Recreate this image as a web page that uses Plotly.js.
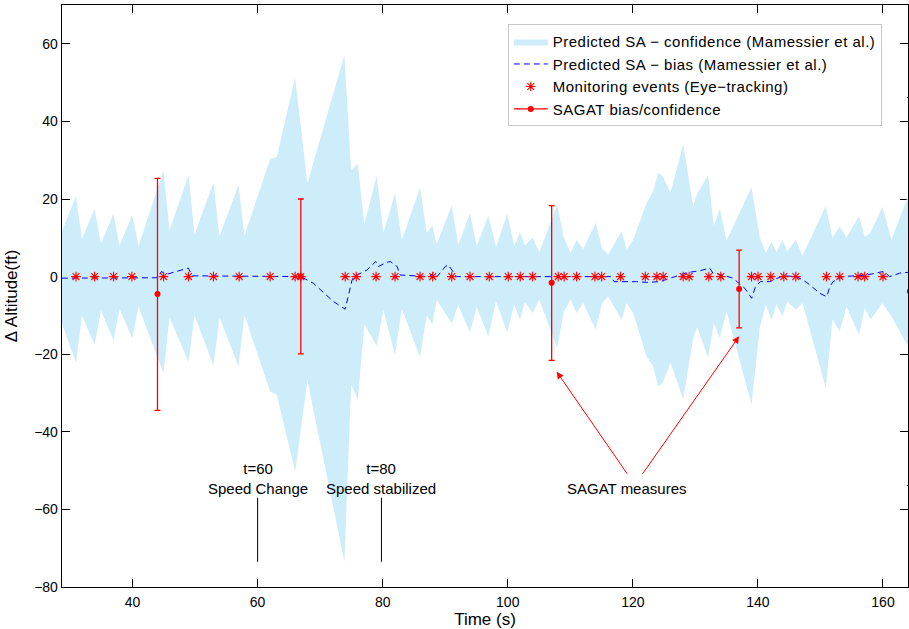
<!DOCTYPE html>
<html>
<head>
<meta charset="utf-8">
<script src="https://cdn.plot.ly/plotly-3.0.1.min.js"></script>
<style>html,body{margin:0;padding:0;background:#fff;}#chart{width:909px;height:629px;}.legendtext{letter-spacing:0.5px;}</style>
</head>
<body>
<div id="chart"></div>
<script>
// ---- Predicted SA confidence envelope (Mamessier et al.) ----
const envTime = [28.7, 30.96, 31.91, 33.93, 34.95, 36.96, 37.92, 39.95, 40.96, 44.95, 45.91, 48.95, 49.91, 52.94, 53.90, 56.94, 57.90, 62.00, 63.07, 66.0, 67.96, 73.88, 74.95, 76.02, 77.07, 79.05, 80.11, 81.98, 83.05, 85.97, 87.04, 87.94, 88.64, 91.04, 92.09, 93.96, 95.03, 96.89, 98.12, 99.92, 101.04, 101.95, 102.75, 103.98, 105.04, 107.91, 108.98, 110.06, 111.01, 112.07, 114.05, 115.10, 116.06, 118.20, 119.00, 120.06, 122.20, 123.25, 124.05, 124.76, 126.03, 128.05, 129.65, 130.28, 132.04, 132.95, 133.91, 134.98, 138.98, 140.30, 141.26, 142.17, 142.97, 143.93, 144.7, 146.06, 147.13, 150.85, 151.92, 153.09, 154.16, 156.17, 157.08, 157.99, 159.91, 161.35, 164.0];
const envUpper = [11.7, 20.7, 9.7, 17.4, 8.5, 16.2, 8.0, 15.9, 7.9, 27.4, 11.9, 26.2, 10.9, 24.2, 10.4, 23.6, 10.5, 30.3, 30.8, 51.3, 24.0, 57.1, 27.4, 29.1, 13.5, 26.0, 11.3, 21.5, 9.4, 22.9, 11.3, 13.2, 8.4, 18.3, 8.2, 16.3, 7.9, 15.6, 7.6, 16.2, 7.8, 11.4, 8.0, 10.1, 6.2, 18.5, 10.0, 6.1, 9.5, 7.1, 13.9, 7.1, 5.7, 11.7, 7.0, 9.5, 19.0, 22.0, 26.8, 25.9, 21.6, 34.1, 18.2, 21.3, 26.2, 13.2, 17.4, 9.3, 23.0, 10.2, 6.1, 9.0, 6.3, 9.5, 6.5, 9.5, 5.4, 18.2, 10.0, 13.0, 10.0, 15.6, 10.2, 11.3, 18.0, 9.5, 20.7];
const envLower = [-12.0, -22.3, -10.0, -17.6, -8.7, -16.5, -8.3, -15.9, -7.8, -25.0, -10.5, -22.0, -10.0, -22.9, -10.5, -23.2, -10.0, -29.6, -30.5, -50.2, -26.8, -73.5, -27.8, -31.8, -12.3, -17.9, -8.7, -20.3, -8.3, -20.7, -10.0, -12.3, -6.0, -12.0, -7.4, -14.5, -7.8, -15.4, -6.4, -14.5, -7.2, -11.1, -6.6, -9.4, -5.9, -18.4, -9.0, -5.9, -9.4, -6.8, -13.7, -6.8, -5.1, -11.1, -6.8, -9.4, -20.6, -23.1, -28.3, -27.4, -22.3, -31.7, -15.8, -13.0, -21.0, -11.9, -15.8, -8.9, -33.0, -13.2, -7.2, -11.1, -7.2, -10.2, -6.4, -8.5, -6.8, -28.7, -11.1, -14.1, -7.7, -15.0, -8.1, -11.1, -6.8, -10.2, -18.0];

// ---- Predicted SA bias (Mamessier et al.) ----
const biasTime = [28.7, 44.0, 44.6, 45.5, 48.9, 49.6, 66.9, 68.9, 72.1, 74.0, 75.1, 75.4, 77.5, 78.9, 79.3, 80.4, 81.2, 82.3, 82.8, 87.5, 88.1, 88.7, 90.0, 90.5, 91.8, 116.5, 117.0, 120.6, 122.2, 124.3, 126.0, 128.6, 130.7, 132.3, 132.8, 134.4, 136.0, 137.9, 139.0, 139.6, 140.4, 141.9, 144.0, 146.2, 147.8, 149.9, 151.0, 151.5, 152.0, 153.6, 157.4, 158.4, 160.0, 161.1, 162.7, 164.0];
const biasValue = [-0.4, -0.3, 1.3, 0.6, 2.2, 0.2, 0.0, -1.7, -6.4, -8.4, -0.9, 0.0, 1.7, 3.9, 2.6, 3.5, 3.9, 2.6, 0.4, 0.0, 1.0, 0.0, 2.6, 3.0, 0.0, 0.0, -1.3, -1.3, -1.5, -1.3, -0.4, 1.0, 1.5, 2.2, 0.9, 0.4, -0.4, -3.0, -5.6, -2.6, -1.3, -1.3, 0.2, 0.0, -1.5, -4.3, -5.2, -2.6, -1.3, 0.0, 0.4, 0.7, 1.3, 0.0, 0.9, 1.1];

// ---- Monitoring events (Eye-tracking) ----
const eventTime = [30.96, 33.93, 36.96, 39.90, 44.95, 48.95, 52.94, 57.05, 62.0, 66.0, 66.91, 74.0, 75.77, 78.94, 81.98, 85.97, 88.0, 91.04, 93.96, 97.05, 100.08, 102.0, 103.98, 108.07, 109.01, 111.01, 113.94, 115.01, 118.04, 122.0, 123.84, 124.85, 128.05, 129.0, 132.15, 134.07, 138.98, 140.03, 142.06, 144.14, 146.06, 150.96, 153.09, 156.01, 157.08, 160.0];
const eventLevel = [0,0,0,0,0,0,0,0,0,0,0,0,0,0,0,0,0,0,0,0,0,0,0,0,0,0,0,0,0,0,0,0,0,0,0,0,0,0,0,0,0,0,0,0,0,0];

// ---- SAGAT bias / confidence ----
const sagatTime = [43.99, 66.91, 107.02, 137.0, 164.3];
const sagatBias = [-4.5, 0.0, -1.6, -3.2, -3.8];
const sagatErrPlus = [29.8, 20.0, 19.9, 10.0, 50.0];
const sagatErrMinus = [30.0, 19.9, 20.0, 10.0, 50.0];

// ---- annotations ----
const markTime = [60, 79.8];
const markLabel = ['t=60<br>Speed Change', 't=80<br>Speed stabilized'];
const markLabelY = -52;
const markLineTop = -57;
const markLineBottom = -73.5;
const sagatLabel = 'SAGAT measures';
const sagatLabelPos = [119.03, -54.5];
const arrowTails = [[119.26, -51.2], [121.4, -51.2]];
const arrowHeads = [[107.82, -24.5], [136.99, -15.4]];

const FONT = 'Liberation Sans, Arial, Helvetica, sans-serif';
const RED = 'rgb(255,0,0)';

const polyX = envTime.concat(envTime.slice().reverse());
const polyY = envUpper.concat(envLower.slice().reverse());

const traces = [
  {
    x: polyX, y: polyY, type: 'scatter', mode: 'lines', fill: 'toself',
    fillcolor: 'rgb(206,237,250)', line: {width: 0, color: 'rgb(206,237,250)'},
    name: 'Predicted SA − confidence (Mamessier et al.)', hoverinfo: 'skip'
  },
  {
    x: biasTime, y: biasValue, type: 'scatter', mode: 'lines',
    line: {color: 'rgb(0,0,255)', width: 1, dash: '6px,4px'},
    name: 'Predicted SA − bias (Mamessier et al.)'
  },
  {
    x: eventTime, y: eventLevel, type: 'scatter', mode: 'markers',
    marker: {symbol: 'asterisk-open', size: 8, color: RED, line: {color: RED, width: 1.1}},
    name: 'Monitoring events (Eye−tracking)'
  },
  {
    x: sagatTime, y: sagatBias, type: 'scatter', mode: 'markers',
    marker: {symbol: 'circle', size: 6, color: RED},
    error_y: {type: 'data', symmetric: false, array: sagatErrPlus, arrayminus: sagatErrMinus,
              color: RED, thickness: 1.3, width: 3},
    showlegend: false
  },
  {
    x: [null], y: [null], type: 'scatter', mode: 'lines+markers',
    line: {color: RED, width: 1.3}, marker: {symbol: 'circle', size: 6, color: RED},
    name: 'SAGAT bias/confidence'
  }
];

const annotations = [];
const shapes = [];
markTime.forEach((t, i) => {
  annotations.push({x: t, y: markLabelY, xref: 'x', yref: 'y', text: markLabel[i], showarrow: false,
    font: {family: FONT, size: 15, color: '#000'}, xanchor: 'center', yanchor: 'middle'});
  shapes.push({type: 'line', xref: 'x', yref: 'y', x0: t, x1: t, y0: markLineTop, y1: markLineBottom,
    line: {color: '#000', width: 1}});
});
annotations.push({x: sagatLabelPos[0], y: sagatLabelPos[1], xref: 'x', yref: 'y', text: sagatLabel,
  showarrow: false, font: {family: FONT, size: 15, color: '#000'}, xanchor: 'center', yanchor: 'middle'});
arrowHeads.forEach((h, i) => {
  annotations.push({x: h[0], y: h[1], xref: 'x', yref: 'y', ax: arrowTails[i][0], ay: arrowTails[i][1],
    axref: 'x', ayref: 'y', text: '', showarrow: true, arrowhead: 2, arrowsize: 1.4, arrowwidth: 1,
    arrowcolor: RED, standoff: 0, startstandoff: 0});
});

const layout = {
  width: 909, height: 629,
  margin: {l: 62, r: 1, t: 5, b: 42},
  paper_bgcolor: '#fff', plot_bgcolor: '#fff',
  font: {family: FONT, size: 14, color: '#000'},
  showlegend: true,
  legend: {
    x: 0.969, y: 0.967, xanchor: 'right', yanchor: 'top',
    bgcolor: '#fff', bordercolor: 'rgb(200,200,200)', borderwidth: 1,
    font: {family: FONT, size: 15, color: '#000'}, itemwidth: 34, tracegroupgap: 0
  },
  xaxis: {
    range: [28.72, 164.0], tickvals: [40, 60, 80, 100, 120, 140, 160],
    ticks: 'inside', ticklen: 8, tickwidth: 1, tickcolor: '#000',
    showline: true, linecolor: '#000', linewidth: 1.3, mirror: 'allticks',
    showgrid: false, zeroline: false, layer: 'below traces',
    tickfont: {family: FONT, size: 14}, ticklabelstandoff: 2,
    title: {text: 'Time (s)', font: {family: FONT, size: 17}, standoff: 4}
  },
  yaxis: {
    range: [-80, 70], tickvals: [-80, -60, -40, -20, 0, 20, 40, 60],
    ticks: 'inside', ticklen: 8, tickwidth: 1, tickcolor: '#000',
    showline: true, linecolor: '#000', linewidth: 1.3, mirror: 'allticks',
    showgrid: false, zeroline: false, layer: 'below traces',
    tickfont: {family: FONT, size: 14},
    title: {text: 'Δ Altitude(ft)', font: {family: FONT, size: 17}, standoff: 12}
  },
  annotations: annotations,
  shapes: shapes
};

Plotly.newPlot('chart', traces, layout, {staticPlot: true, displayModeBar: false});
</script>
</body>
</html>
